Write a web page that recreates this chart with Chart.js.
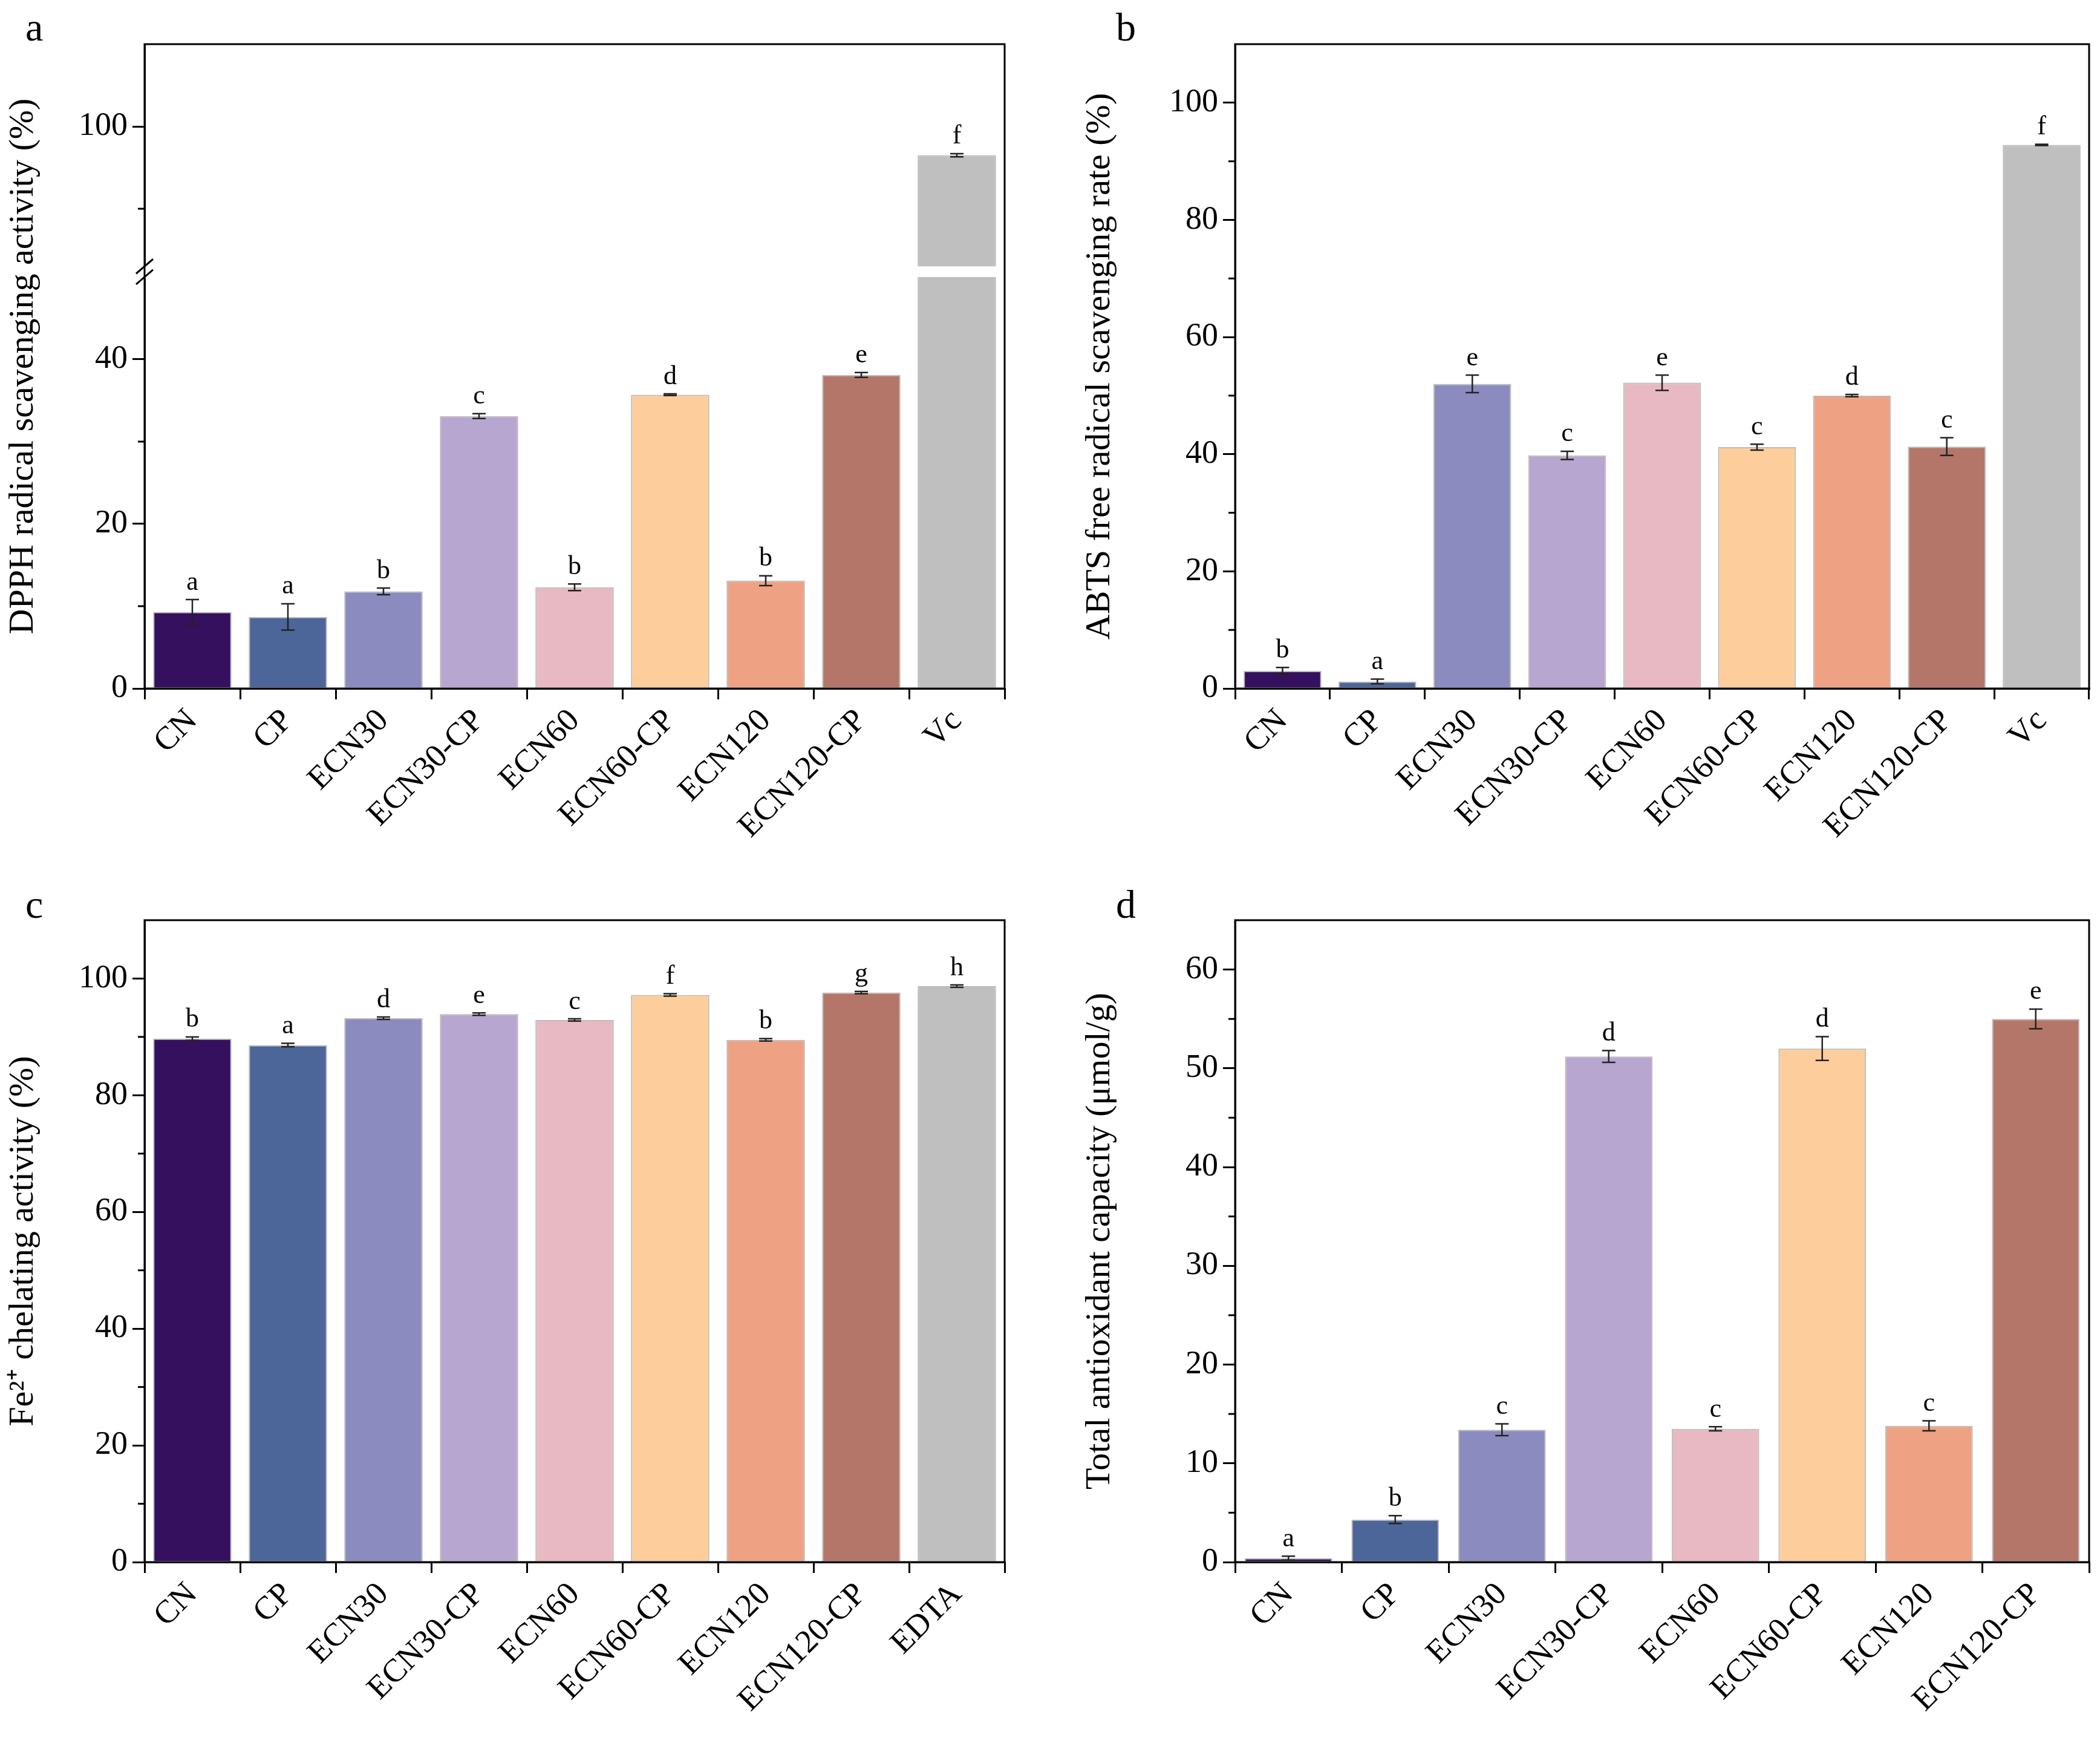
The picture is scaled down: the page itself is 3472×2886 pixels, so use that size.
<!DOCTYPE html>
<html><head><meta charset="utf-8">
<script src="https://cdn.jsdelivr.net/npm/chart.js@4.4.0/dist/chart.umd.min.js"></script>
<style>
body{margin:0;width:3472px;height:2886px;background:#fff;position:relative;overflow:hidden;font-family:'Liberation Serif',serif}
canvas{position:absolute}
.lab{position:absolute;font-size:66px;font-family:'Liberation Serif',serif;line-height:1}
</style></head><body>
<canvas id="ca" style="left:0px;top:0px" width="1700" height="1440"></canvas>
<canvas id="cb" style="left:1780px;top:0px" width="1692" height="1440"></canvas>
<canvas id="cc" style="left:0px;top:1445px" width="1700" height="1441"></canvas>
<canvas id="cd" style="left:1780px;top:1445px" width="1692" height="1441"></canvas>
<div class="lab" style="left:42px;top:12px">a</div>
<div class="lab" style="left:1845px;top:12px">b</div>
<div class="lab" style="left:42px;top:1462px">c</div>
<div class="lab" style="left:1845px;top:1462px">d</div>
<script>
const samples = ['CN','CP','ECN30','ECN30-CP','ECN60','ECN60-CP','ECN120','ECN120-CP'];
const colors = ['#35105f','#4c6699','#8c8bbf','#b7a6cf','#e8b9c3','#fdcd9b','#eea283','#b5766a','#bfbfbf'];

const dpphLabels = [...samples,'Vc'];
const dpphValues = [9.3,8.7,11.8,33.1,12.3,35.7,13.1,38.1,96.5];
const dpphErrors = [1.5,1.6,0.4,0.3,0.4,0.1,0.6,0.3,0.2];
const dpphLetters = ['a','a','b','c','b','d','b','e','f'];

const abtsLabels = [...samples,'Vc'];
const abtsValues = [3.0,1.2,52.0,39.8,52.2,41.2,50.0,41.3,92.8];
const abtsErrors = [0.6,0.4,1.5,0.7,1.3,0.5,0.2,1.5,0.1];
const abtsLetters = ['b','a','e','c','e','c','d','c','f'];

const feLabels = [...samples,'EDTA'];
const feValues = [89.7,88.6,93.2,93.9,92.9,97.2,89.5,97.6,98.7];
const feErrors = [0.3,0.3,0.2,0.2,0.2,0.2,0.2,0.2,0.2];
const feLetters = ['b','a','d','e','c','f','b','g','h'];

const taoLabels = samples;
const taoValues = [0.4,4.3,13.4,51.2,13.5,52.0,13.8,55.0];
const taoErrors = [0.2,0.4,0.6,0.6,0.2,1.2,0.5,1.0];
const taoLetters = ['a','b','c','d','c','d','c','e'];

const abtsTicks = [0,20,40,60,80,100];
const feTicks = [0,20,40,60,80,100];
const taoTicks = [0,10,20,30,40,50,60];

// broken axis for panel a: 0-50 kept, 83-110 shifted down
const BREAK_LO = 50, BREAK_HI = 83, GAP = 1.3;
const tA = v => v <= BREAK_LO ? v : v - BREAK_HI + BREAK_LO + GAP;
const tAinv = v => v <= BREAK_LO ? v : v + BREAK_HI - BREAK_LO - GAP;

const FONT = "'Liberation Serif', serif";
Chart.defaults.font.family = FONT;
Chart.defaults.color = '#000';

const decor = {
  id: 'decor',
  afterDatasetsDraw(chart, args, o) {
    const ctx = chart.ctx, ys = chart.scales.y, a = chart.chartArea;
    const meta = chart.getDatasetMeta(0), tf = o.tf || (v => v);
    ctx.save();
    ctx.strokeStyle = '#000'; ctx.lineWidth = 3;
    (o.minor || []).forEach(v => {
      const y = ys.getPixelForValue(tf(v));
      ctx.beginPath(); ctx.moveTo(a.left, y); ctx.lineTo(a.left - 11, y); ctx.stroke();
    });
    o.values.forEach((v, i) => {
      const x = meta.data[i].x, e = o.errors[i];
      const y1 = ys.getPixelForValue(tf(v + e)), y2 = ys.getPixelForValue(tf(v - e));
      ctx.strokeStyle = '#222'; ctx.lineWidth = 2.5;
      ctx.beginPath();
      ctx.moveTo(x, y1); ctx.lineTo(x, y2);
      ctx.moveTo(x - 11, y1); ctx.lineTo(x + 11, y1);
      ctx.moveTo(x - 11, y2); ctx.lineTo(x + 11, y2);
      ctx.stroke();
      ctx.fillStyle = '#000'; ctx.font = '44px ' + FONT;
      ctx.textAlign = 'center'; ctx.textBaseline = 'bottom';
      ctx.fillText(o.letters[i], x, y1 - 6);
    });
    if (o.broken) {
      const yb1 = ys.getPixelForValue(BREAK_LO), yb2 = ys.getPixelForValue(BREAK_LO + GAP);
      const last = meta.data[meta.data.length - 1];
      ctx.fillStyle = '#fff';
      ctx.fillRect(last.x - last.width / 2 - 2, yb2, last.width + 4, yb1 - yb2);
      ctx.fillRect(a.left - 10, yb2 - 2, 20, yb1 - yb2 + 4);
      ctx.strokeStyle = '#000'; ctx.lineWidth = 3;
      [yb1, yb2].forEach(y => {
        ctx.beginPath(); ctx.moveTo(a.left - 14, y + 12); ctx.lineTo(a.left + 14, y - 12); ctx.stroke();
      });
    }
    ctx.strokeStyle = '#000'; ctx.lineWidth = 3;
    ctx.strokeRect(a.left, a.top, a.right - a.left, a.bottom - a.top);
    ctx.restore();
  }
};

function makeChart(id, cfg) {
  const tf = cfg.tf || (v => v);
  return new Chart(document.getElementById(id), {
    type: 'bar',
    data: {
      labels: cfg.labels,
      datasets: [{
        data: cfg.values.map(tf),
        backgroundColor: colors.slice(0, cfg.labels.length),
        borderColor: 'rgba(60,60,60,0.35)', borderWidth: 2,
        barPercentage: 0.82, categoryPercentage: 1
      }]
    },
    options: {
      responsive: false, animation: false,
      layout: { padding: { top: cfg.top, right: cfg.right } },
      plugins: {
        legend: { display: false }, tooltip: { enabled: false },
        decor: { values: cfg.values, errors: cfg.errors, letters: cfg.letters, minor: cfg.minor, tf: cfg.tf, broken: cfg.broken }
      },
      scales: {
        x: {
          grid: { display: true, drawOnChartArea: false, drawTicks: true, tickLength: 18, color: '#000', lineWidth: 3 },
          border: { color: '#000', width: 3 },
          ticks: { font: { size: 54 }, color: '#000', minRotation: 45, maxRotation: 45, padding: 4 },
          afterFit: s => { s.height = cfg.xh; }
        },
        y: {
          min: 0, max: cfg.max,
          grid: { display: true, drawOnChartArea: false, drawTicks: true, tickLength: 20, color: '#000', lineWidth: 3 },
          border: { color: '#000', width: 3 },
          ticks: { font: { size: 54 }, color: '#000', padding: 8,
                   callback: v => cfg.tickLabel ? cfg.tickLabel(v) : v },
          afterBuildTicks: s => { s.ticks = cfg.ticks.map(v => ({ value: v })); },
          title: { display: true, text: cfg.title, font: { size: 58 }, color: '#000', padding: { bottom: 6 } },
          afterFit: s => { s.width = cfg.yw; }
        }
      }
    },
    plugins: [decor]
  });
}

makeChart('ca', {
  labels: dpphLabels, values: dpphValues, errors: dpphErrors, letters: dpphLetters,
  tf: tA, max: tA(110), ticks: [0, 20, 40, tA(100)], tickLabel: v => Math.round(tAinv(v)),
  minor: [10, 30, 90], broken: true,
  title: 'DPPH radical scavenging activity (%)', top: 73, right: 39, yw: 239, xh: 302
});
makeChart('cb', {
  labels: abtsLabels, values: abtsValues, errors: abtsErrors, letters: abtsLetters,
  max: 110, ticks: abtsTicks, minor: [10, 30, 50, 70, 90],
  title: 'ABTS free radical scavenging rate (%)', top: 73, right: 18, yw: 262, xh: 302
});
makeChart('cc', {
  labels: feLabels, values: feValues, errors: feErrors, letters: feLetters,
  max: 110, ticks: feTicks, minor: [10, 30, 50, 70, 90],
  title: 'Fe\u00B2\u207A chelating activity (%)', top: 76, right: 39, yw: 239, xh: 304
});
makeChart('cd', {
  labels: taoLabels, values: taoValues, errors: taoErrors, letters: taoLetters,
  max: 65, ticks: taoTicks, minor: [5, 15, 25, 35, 45, 55],
  title: 'Total antioxidant capacity (\u03BCmol/g)', top: 76, right: 18, yw: 262, xh: 304
});
</script>
</body></html>
